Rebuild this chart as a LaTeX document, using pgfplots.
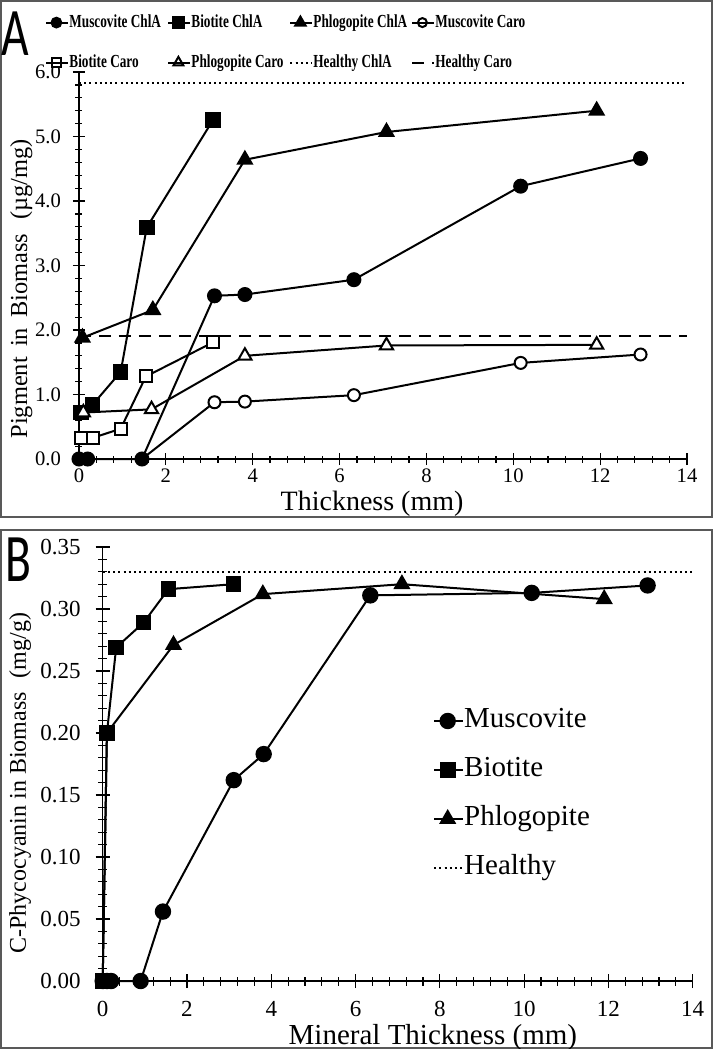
\documentclass[border=0pt]{standalone}
\usepackage{pgfplots}
\pgfplotsset{compat=1.18}
\usepackage{graphicx}
\usepackage{fontspec}
\setmainfont{Liberation Serif}
\newfontfamily\letterfont{Carlito}
\newfontfamily\legAfont[FakeStretch=0.72]{Liberation Serif}
\newcommand{\LA}[1]{\makebox[49pt][l]{#1}}

\pgfplotsset{
 panel/.style={
  scale only axis, axis lines*=left, xmin=0, xmax=14, xtick={0,2,...,14},
  minor x tick num=4, tick align=center, clip=false,
  axis line style={line width=0.75pt, black},
  every tick/.style={black, line width=0.6pt},
  /pgf/number format/assume math mode=true,
 },
 ser/.style={black, line width=1pt, mark options={solid, line width=0.6pt}},
 fcirc/.style={ser, mark=*, mark options={fill=black}, mark size=3.25pt},
 fsq/.style={ser, mark=square*, mark options={fill=black}, mark size=3.4pt},
 ftri/.style={ser, mark=triangle*, mark options={fill=black}, mark size=4pt},
 ocirc/.style={ser, mark=*, mark options={fill=white}, mark size=3pt},
 osq/.style={ser, mark=square*, mark options={fill=white}, mark size=3pt},
 otri/.style={ser, mark=triangle*, mark options={fill=white}, mark size=3.8pt},
}

\begin{document}
\begin{tikzpicture}
\useasboundingbox (0,0) rectangle (357pt,-524.5pt);
\draw[black!65, line width=0.75pt] (0.5pt,-0.5pt) rectangle (356pt,-258.5pt);
\draw[black!65, line width=0.75pt] (0.5pt,-265pt) rectangle (356pt,-524pt);
\node[anchor=center] at (7.5pt,-17pt) {\scalebox{0.7}[1]{\letterfont\fontsize{34}{34}\selectfont A}};
\node[anchor=center] at (9pt,-280pt) {\scalebox{0.7}[1]{\letterfont\fontsize{34}{34}\selectfont B}};

% ---------------- Panel A ----------------
\begin{axis}[panel,
  at={(39.5pt,-229.5pt)}, anchor=south west,
  width=304pt, height=193.5pt,
  ymin=0, ymax=6, ytick={0,1,...,6}, minor y tick num=4,
  major tick length=6pt, minor tick length=3.5pt,
  tick label style={font=\rmfamily\fontsize{10.3}{12}\selectfont},
  xticklabel style={yshift=1.5pt},
  yticklabel style={xshift=-2.5pt, /pgf/number format/.cd, fixed, fixed zerofill, precision=1},
  xlabel={Thickness (mm)},
  xlabel style={at={(axis description cs:0.482,-0.116)}, anchor=center, font=\fontsize{14}{16}\selectfont},
  ylabel={Pigment\, in\, Biomass\,\, (µg/mg)},
  ylabel style={at={(axis description cs:-0.095,0.44)}, anchor=center, font=\fontsize{12.2}{14}\selectfont},
  legend columns=4,
  legend style={at={(rel axis cs:-0.0559,1.152)}, anchor=north west, draw=none, fill=none,
    inner sep=0pt, row sep=11pt, column sep=0pt,
    nodes={inner sep=0pt, text height=7pt, text depth=2pt},
    font=\legAfont\bfseries\fontsize{9.2}{10}\selectfont},
  legend cell align=left,
  legend image code/.code={\draw[#1, mark indices={2}, /tikz/every mark/.append style={scale=0.75}] plot coordinates {(0pt,0pt) (5pt,0pt) (10pt,0pt)}; \path (0pt,0pt) -- (11pt,0pt);},
]
\addplot[fcirc] coordinates {(0,0) (0.2,0) (1.45,0) (3.12,2.53) (3.82,2.55) (6.33,2.78) (10.17,4.23) (12.93,4.66)};
\addplot[fsq] coordinates {(0.05,0.72) (0.31,0.84) (0.96,1.35) (1.56,3.59) (3.09,5.26)};
\addplot[ftri] coordinates {(0.08,1.88) (1.70,2.31) (3.82,4.64) (7.08,5.07) (11.92,5.40)};
\addplot[ocirc, mark indices={2,3,4,5,6}] coordinates {(1.45,0) (3.12,0.88) (3.82,0.89) (6.33,0.99) (10.17,1.49) (12.93,1.62)};
\addplot[osq] coordinates {(0.05,0.32) (0.33,0.33) (0.96,0.47) (1.54,1.28) (3.09,1.81)};
\addplot[otri] coordinates {(0.1,0.72) (1.67,0.77) (3.82,1.60) (7.08,1.76) (11.92,1.77)};
\addplot[black, line width=1pt, dash pattern=on 1pt off 1.6pt, mark=none] coordinates {(0,5.83) (14,5.83)};
\addplot[black, line width=1pt, dash pattern=on 6pt off 4pt, mark=none] coordinates {(0,1.91) (14,1.91)};
\legend{\LA{Muscovite ChlA},\LA{Biotite ChlA},\LA{Phlogopite ChlA},\LA{Muscovite Caro},\LA{Biotite Caro},\LA{Phlogopite Caro},\LA{Healthy ChlA},\LA{Healthy Caro}}
\end{axis}

% ---------------- Panel B ----------------
\begin{axis}[panel,
  at={(51.35pt,-490.5pt)}, anchor=south west,
  width=295pt, height=217pt,
  ymin=0, ymax=0.35, ytick={0,0.05,0.1,0.15,0.2,0.25,0.3,0.35}, minor y tick num=4,
  major tick length=7pt, minor tick length=4.5pt,
  tick label style={font=\rmfamily\fontsize{11.5}{13}\selectfont},
  xticklabel style={yshift=-3pt},
  yticklabel style={xshift=-4pt, /pgf/number format/.cd, fixed, fixed zerofill, precision=2},
  xlabel={Mineral Thickness (mm)},
  xlabel style={at={(axis description cs:0.5596,-0.131)}, anchor=center, font=\fontsize{14.5}{16}\selectfont},
  ylabel={C-Phycocyanin in Biomass\,\, (mg/g)},
  ylabel style={at={(axis description cs:-0.140,0.456)}, anchor=center, font=\fontsize{12}{14}\selectfont},
  legend style={at={(rel axis cs:0.5595,0.630)}, anchor=north west, draw=none, fill=none,
    inner sep=0pt, row sep=11.5pt,
    nodes={inner sep=0pt, text height=10pt, text depth=3pt},
    font=\fontsize{14.5}{16}\selectfont},
  legend cell align=left,
  legend image code/.code={\draw[#1, mark indices={2}] plot coordinates {(0pt,0pt) (6.75pt,0pt) (13.5pt,0pt)}; \path (0pt,0pt) -- (14.5pt,0pt);},
]
\addplot[fcirc, mark size=3.6pt] coordinates {(0,0) (0.1,0) (0.2,0) (0.9,0) (1.43,0.056) (3.11,0.162) (3.82,0.183) (6.35,0.311) (10.18,0.313) (12.93,0.319)};
\addplot[fsq, mark size=3.4pt] coordinates {(0,0) (0.1,0.20) (0.32,0.269) (0.97,0.289) (1.56,0.316) (3.1,0.32)};
\addplot[ftri, mark size=4pt, mark indices={3,4,5,6}] coordinates {(0,0) (0.1,0.20) (1.68,0.271) (3.8,0.312) (7.1,0.32) (11.9,0.308)};
\addplot[black, line width=1pt, dash pattern=on 1pt off 1.6pt, mark=none] coordinates {(0,0.33) (14,0.33)};
\legend{Muscovite,Biotite,Phlogopite,Healthy}
\end{axis}
\end{tikzpicture}
\end{document}
